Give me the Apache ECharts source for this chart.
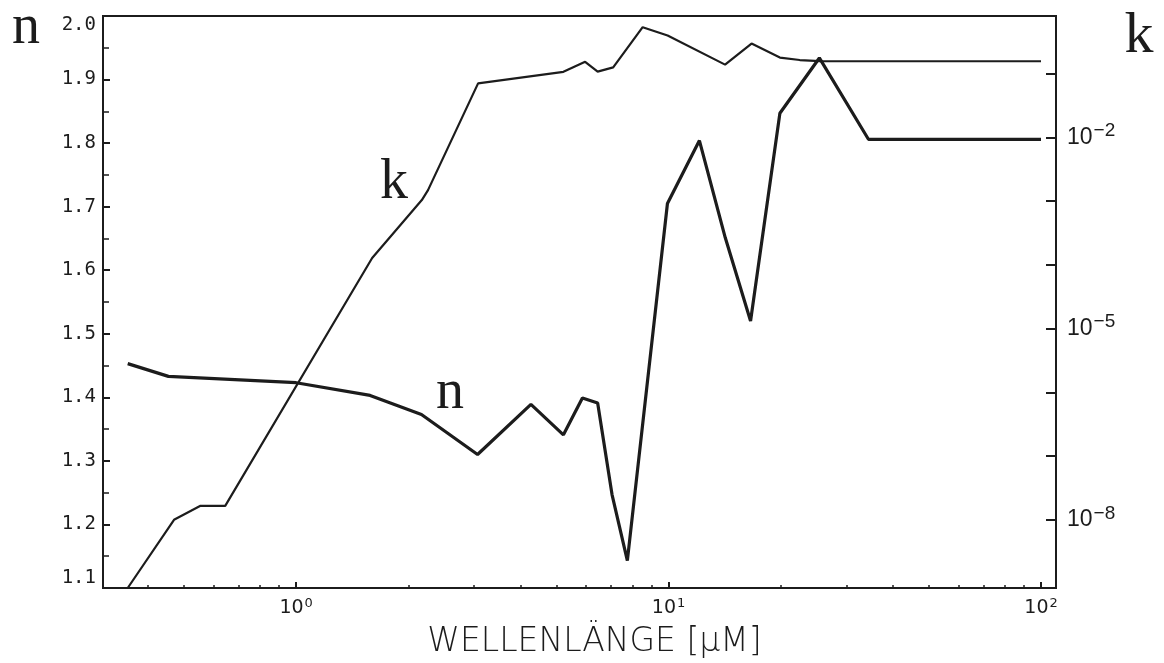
<!DOCTYPE html>
<html>
<head>
<meta charset="utf-8">
<script src="https://cdn.jsdelivr.net/npm/echarts@6/dist/echarts.min.js"></script>
<style>
  html, body { margin: 0; padding: 0; background: #ffffff; }
  #chart { width: 1164px; height: 663px; }
</style>
</head>
<body>
<div id="chart"></div>
<script>
// Refractive index n versus wavelength (µm)
const nWavelength = [0.353, 0.454, 1.0, 1.58, 2.17, 3.07, 4.27, 5.22, 5.87, 6.45, 7.05, 7.75, 9.93, 12.1, 14.2, 16.6, 19.9, 25.4, 34.4, 100];
const nValues     = [1.453, 1.433, 1.423, 1.403, 1.373, 1.310, 1.389, 1.341, 1.399, 1.391, 1.247, 1.143, 1.705, 1.804, 1.651, 1.520, 1.847, 1.934, 1.806, 1.806];

// Absorption index k versus wavelength (µm)
const kWavelength = [0.353, 0.470, 0.552, 0.645, 1.60, 2.175, 2.26, 3.08, 5.22, 5.97, 6.45, 7.10, 8.52, 9.94, 14.18, 16.7, 19.9, 22.5, 25.5, 100];
const kValues     = [8.5e-10, 1.0e-8, 1.65e-8, 1.65e-8, 1.28e-4, 1.04e-3, 1.49e-3, 0.0706, 0.107, 0.154, 0.108, 0.126, 0.537, 0.398, 0.139, 0.297, 0.179, 0.164, 0.158, 0.157];

// Axis ranges and tick positions
const xRange = [0.303, 109.7];
const nRange = [1.1, 2.0];
const kRange = [8.5e-10, 0.805];
const xMajorTicks = [1, 10, 100];
const xMinorTicks = [0.4, 0.5, 0.6, 0.7, 0.8, 0.9, 2, 3, 4, 5, 6, 7, 8, 9, 20, 30, 40, 50, 60, 70, 80, 90];
const kTicks = [1e-1, 1e-2, 1e-3, 1e-4, 1e-5, 1e-6, 1e-7, 1e-8];
const kLabelTicks = [1e-2, 1e-5, 1e-8];

const INK = '#1c1c1c';

function powerLabel(v) {
  const e = Math.round(Math.log10(v));
  return '{b|10}{s|' + String(e).replace('-', '\u2212') + '}';
}

const chart = echarts.init(document.getElementById('chart'), null, { renderer: 'canvas' });

chart.setOption({
  animation: false,
  backgroundColor: '#ffffff',
  grid: {
    left: 103, right: 108, top: 16, bottom: 75,
    outerBoundsMode: 'none',
    containLabel: false,
    show: true, borderColor: INK, borderWidth: 2, backgroundColor: 'transparent'
  },
  xAxis: [
    {
      type: 'log', logBase: 10,
      min: xRange[0], max: xRange[1],
      position: 'bottom',
      axisLine: { show: true, lineStyle: { color: INK, width: 2 } },
      axisTick: { show: true, inside: true, length: 3, customValues: xMinorTicks, lineStyle: { color: INK, width: 1.5 } },
      axisLabel: {
        customValues: xMajorTicks,
        margin: 9,
        color: INK,
        formatter: powerLabel,
        rich: {
          b: { fontFamily: 'DejaVu Sans', fontSize: 19, color: INK },
          s: { fontFamily: 'DejaVu Sans', fontSize: 13, color: INK, padding: [0, 0, 9, 1] }
        }
      },
      splitLine: { show: false },
      name: 'WELLENLÄNGE [µM]',
      nameLocation: 'middle',
      nameGap: 38,
      nameTextStyle: { fontFamily: 'DejaVu Sans', fontSize: 33, fontWeight: 300, color: INK, padding: [0, 0, 0, 30] }
    },
    {
      type: 'log', logBase: 10,
      min: xRange[0], max: xRange[1],
      position: 'bottom',
      axisLine: { show: false },
      axisTick: { show: true, inside: true, length: 6, customValues: xMajorTicks, lineStyle: { color: INK, width: 2 } },
      axisLabel: { show: false },
      splitLine: { show: false }
    }
  ],
  yAxis: [
    {
      type: 'value',
      min: nRange[0], max: nRange[1], interval: 0.1,
      position: 'left',
      axisLine: { show: true, lineStyle: { color: INK, width: 2 } },
      axisTick: { show: true, inside: true, length: 7, lineStyle: { color: INK, width: 2 } },
      minorTick: { show: true, splitNumber: 2, length: 6, lineStyle: { color: INK, width: 1.5 } },
      splitLine: { show: false },
      axisLabel: {
        margin: 7,
        fontFamily: 'DejaVu Sans Mono',
        fontSize: 19,
        color: INK,
        verticalAlignMinLabel: 'bottom',
        verticalAlignMaxLabel: 'top',
        formatter: v => v.toFixed(1)
      }
    },
    {
      type: 'log', logBase: 10,
      min: kRange[0], max: kRange[1],
      position: 'right',
      axisLine: { show: true, lineStyle: { color: INK, width: 2 } },
      axisTick: { show: true, inside: true, length: 10, customValues: kTicks, lineStyle: { color: INK, width: 2 } },
      splitLine: { show: false },
      axisLabel: {
        customValues: kLabelTicks,
        margin: 11,
        formatter: powerLabel,
        rich: {
          b: { fontFamily: 'Liberation Sans', fontSize: 23, color: INK },
          s: { fontFamily: 'Liberation Sans', fontSize: 19, color: INK, padding: [0, 0, 13, 1] }
        }
      }
    }
  ],
  series: [
    {
      name: 'n',
      type: 'line',
      xAxisIndex: 0, yAxisIndex: 0,
      showSymbol: false,
      lineStyle: { color: INK, width: 3.2 },
      data: nWavelength.map((w, i) => [w, nValues[i]])
    },
    {
      name: 'k',
      type: 'line',
      xAxisIndex: 0, yAxisIndex: 1,
      showSymbol: false,
      lineStyle: { color: INK, width: 2.2 },
      data: kWavelength.map((w, i) => [w, kValues[i]])
    }
  ],
  graphic: [
    { type: 'text', x: 26, y: 28, style: { text: 'n', font: '56px "Liberation Serif"', fill: INK, textAlign: 'center', textVerticalAlign: 'middle' } },
    { type: 'text', x: 1139, y: 37, style: { text: 'k', font: '58px "Liberation Serif"', fill: INK, textAlign: 'center', textVerticalAlign: 'middle' } },
    { type: 'text', x: 394, y: 183, style: { text: 'k', font: '56px "Liberation Serif"', fill: INK, textAlign: 'center', textVerticalAlign: 'middle' } },
    { type: 'text', x: 450, y: 393, style: { text: 'n', font: '56px "Liberation Serif"', fill: INK, textAlign: 'center', textVerticalAlign: 'middle' } }
  ]
});
</script>
</body>
</html>
